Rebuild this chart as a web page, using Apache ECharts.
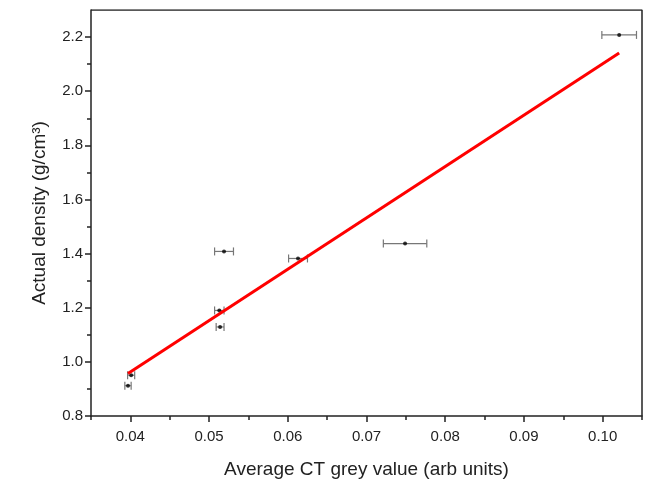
<!DOCTYPE html>
<html>
<head>
<meta charset="utf-8">
<script src="https://cdn.jsdelivr.net/npm/echarts@6/dist/echarts.min.js"></script>
<style>
  html, body { margin: 0; padding: 0; background: #fff; }
  #chart { width: 645px; height: 486px; }
</style>
</head>
<body>
<div id="chart"></div>
<script>
// measured points (grey value, density) and horizontal error
const greyValue = [0.0397, 0.0401, 0.0513, 0.0514, 0.0519, 0.0613, 0.0749, 0.1021];
const density   = [0.912, 0.951, 1.19, 1.129, 1.408, 1.382, 1.437, 2.208];
const greyError = [0.0004, 0.00045, 0.0006, 0.0005, 0.0012, 0.0012, 0.00276, 0.0022];

// linear fit end points
const fitX = [0.0397, 0.1021];
const fitY = [0.957, 2.141];

// ticks
const xMajor = [0.04, 0.05, 0.06, 0.07, 0.08, 0.09, 0.10];
const xMinor = [0.035, 0.045, 0.055, 0.065, 0.075, 0.085, 0.095, 0.105];
const yMajor = [0.8, 1.0, 1.2, 1.4, 1.6, 1.8, 2.0, 2.2];
const yMinor = [0.9, 1.1, 1.3, 1.5, 1.7, 1.9, 2.1];

const chart = echarts.init(document.getElementById('chart'));

const points = greyValue.map((x, i) => [x, density[i]]);
const bars = greyValue.map((x, i) => [x - greyError[i], x + greyError[i], density[i]]);
const fit = fitX.map((x, i) => [x, fitY[i]]);

const font = 'Liberation Sans, Arial, sans-serif';
const ink = '#222';

chart.setOption({
  animation: false,
  grid: { left: 91, right: 3, top: 10, bottom: 70 },
  xAxis: [
    {
      type: 'value',
      min: 0.035,
      max: 0.105,
      name: 'Average CT grey value (arb units)',
      nameLocation: 'middle',
      nameGap: 44,
      nameTextStyle: { fontFamily: font, fontSize: 19, color: ink },
      axisLine: { onZero: false, lineStyle: { color: ink, width: 1.5 } },
      axisTick: { customValues: xMajor, length: 6, lineStyle: { color: ink, width: 1.5 } },
      splitLine: { show: false },
      axisLabel: {
        customValues: xMajor,
        fontFamily: font, fontSize: 15, color: ink, margin: 13,
        formatter: v => v.toFixed(2)
      }
    },
    {
      type: 'value',
      min: 0.035,
      max: 0.105,
      position: 'bottom',
      axisLine: { show: false },
      axisTick: { customValues: xMinor, length: 4, lineStyle: { color: ink, width: 1.5 } },
      axisLabel: { show: false },
      splitLine: { show: false }
    }
  ],
  yAxis: [
    {
      type: 'value',
      min: 0.8,
      max: 2.3,
      name: 'Actual density (g/cm³)',
      nameLocation: 'middle',
      nameGap: 42,
      nameTextStyle: { fontFamily: font, fontSize: 19, color: ink },
      axisLine: { onZero: false, lineStyle: { color: ink, width: 1.5 } },
      axisTick: { customValues: yMajor, length: 6, lineStyle: { color: ink, width: 1.5 } },
      splitLine: { show: false },
      axisLabel: {
        customValues: yMajor,
        fontFamily: font, fontSize: 15, color: ink, margin: 8,
        formatter: v => v.toFixed(1)
      }
    },
    {
      type: 'value',
      min: 0.8,
      max: 2.3,
      position: 'left',
      axisLine: { show: false },
      axisTick: { customValues: yMinor, length: 4, lineStyle: { color: ink, width: 1.5 } },
      axisLabel: { show: false },
      splitLine: { show: false }
    }
  ],
  series: [
    {
      // top and right frame
      type: 'line',
      data: [[0.035, 2.3], [0.105, 2.3], [0.105, 0.8]],
      symbol: 'none',
      silent: true,
      lineStyle: { color: ink, width: 1.5 },
      z: 1
    },
    {
      type: 'custom',
      data: bars,
      renderItem: (params, api) => {
        const a = api.coord([api.value(0), api.value(2)]);
        const b = api.coord([api.value(1), api.value(2)]);
        const h = 4;
        const st = { stroke: '#777', lineWidth: 1.2 };
        return {
          type: 'group',
          children: [
            { type: 'line', shape: { x1: a[0], y1: a[1], x2: b[0], y2: b[1] }, style: st },
            { type: 'line', shape: { x1: a[0], y1: a[1] - h, x2: a[0], y2: a[1] + h }, style: st },
            { type: 'line', shape: { x1: b[0], y1: b[1] - h, x2: b[0], y2: b[1] + h }, style: st }
          ]
        };
      },
      z: 2
    },
    {
      type: 'scatter',
      data: points,
      symbol: 'circle',
      symbolSize: 4,
      itemStyle: { color: '#000' },
      z: 3
    },
    {
      type: 'line',
      data: fit,
      symbol: 'none',
      lineStyle: { color: '#ff0000', width: 3 },
      z: 4
    }
  ]
});
</script>
</body>
</html>
